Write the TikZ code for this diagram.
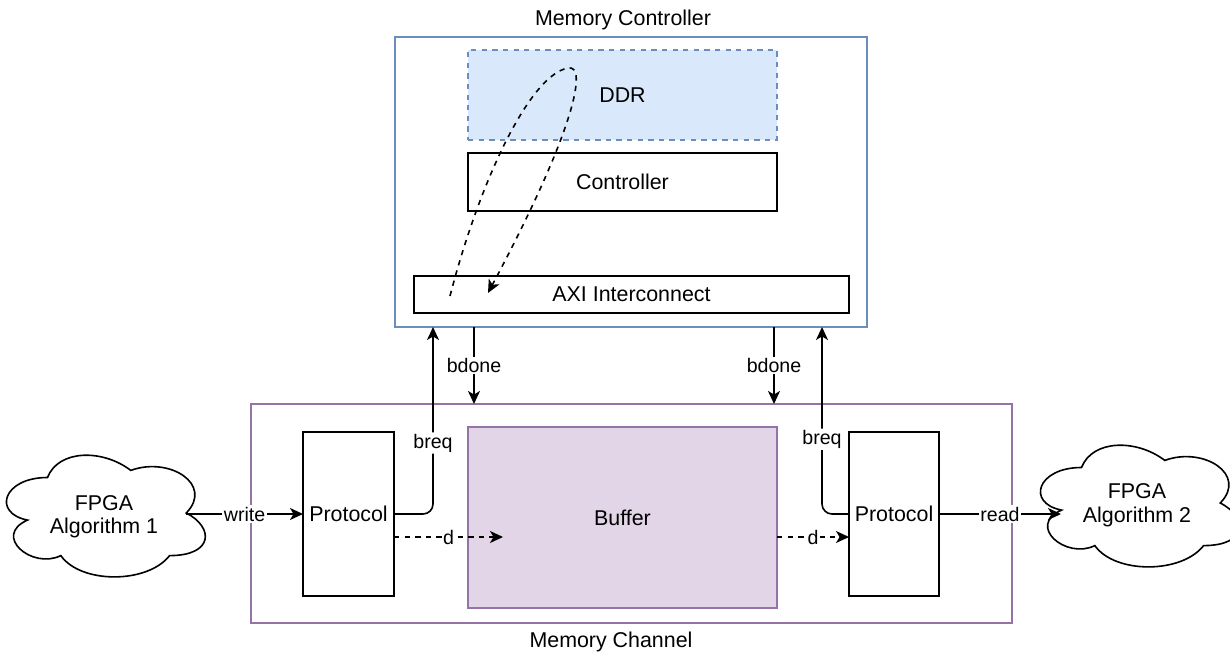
\documentclass[tikz,border=0pt]{standalone}
\usepackage{fontspec}
\setmainfont{Liberation Sans}
\usetikzlibrary{arrows.meta,calc}
\definecolor{bluestroke}{HTML}{6C8EBF}
\definecolor{bluefill}{HTML}{DAE8FC}
\definecolor{purplestroke}{HTML}{9673A6}
\definecolor{purplefill}{HTML}{E1D5E7}
\newcommand\mycloudpath{(0.25,0.25) .. controls (0.05,0.25) and (0,0.5) .. (0.16,0.55)
  .. controls (0,0.66) and (0.18,0.9) .. (0.31,0.8)
  .. controls (0.4,1) and (0.7,1) .. (0.8,0.8)
  .. controls (1,0.8) and (1,0.6) .. (0.875,0.5)
  .. controls (1,0.3) and (0.8,0.1) .. (0.625,0.2)
  .. controls (0.5,0.05) and (0.3,0.05) .. (0.25,0.25) -- cycle}
\begin{document}
\begin{tikzpicture}[x=1pt,y=-1pt,
  every node/.style={inner sep=0pt, outer sep=0pt, text=black},
  big/.style={font=\fontsize{21.4}{23.5}\selectfont},
  box/.style={draw=black, fill=white, line width=1.6pt, big},
  lbl/.style={fill=white, inner sep=1.5pt, font=\fontsize{19.6}{22}\selectfont},
  arr/.style={line width=1.6pt, -{Stealth[length=13pt,width=12pt,inset=3.5pt]}},
  darr/.style={arr, dash pattern=on 5.3pt off 5.3pt},
  cloudline/.style={line width=1.6pt},
  cloudbox/.style={minimum width=222, minimum height=142},
]
\useasboundingbox (0,0) rectangle (1230,652);

% Memory controller
\node[box, draw=bluestroke, minimum width=472, minimum height=290] (mc) at (631,182) {};
\node[big] (mct) at (623,20) {Memory Controller};
\node[box, draw=bluestroke, fill=bluefill, dash pattern=on 5.3pt off 5.3pt, minimum width=309, minimum height=90] (ddr) at (622.5,95) {DDR};
\node[box, minimum width=309, minimum height=58] (ctrl) at (622.5,182) {Controller};
\node[box, minimum width=435, minimum height=37] (axi) at (631.5,294.5) {AXI Interconnect};

% Memory channel
\node[box, draw=purplestroke, minimum width=761, minimum height=219] (ch) at (631.5,513.5) {};
\node[big] (cht) at (611,642) {Memory Channel};
\node[box, draw=purplestroke, fill=purplefill, minimum width=309, minimum height=181] (buf) at (622.5,517.5) {Buffer};
\node[box, minimum width=91, minimum height=164] (p1) at (348.5,514) {Protocol};
\node[box, minimum width=90, minimum height=164] (p2) at (894,514) {Protocol};

% Clouds
\node[cloudbox] (c1) at (103,513) {};
\draw[cloudline, shift={(c1.north west)}, xscale=222, yscale=142] \mycloudpath;
\node[big, align=center] (c1t) at (104,516.5) {FPGA\\Algorithm 1};
\node[cloudbox] (c2) at (1137,503) {};
\draw[cloudline, shift={(c2.north west)}, xscale=222, yscale=142] \mycloudpath;
\node[big, align=center] (c2t) at (1137,505) {FPGA\\Algorithm 2};
\coordinate (c1port) at ($(c1.north west)+(194.25,72)$);
\coordinate (c2port) at (1061,514);

% DDR loop
\coordinate (lS) at (450,296);
\coordinate (lT) at (568,68);
\coordinate (lE) at (488,293);
\draw[darr] (lS) .. controls (480,180) and (530,75) .. (lT) .. controls (588,64) and (575,130) .. (lE);

% connectors
\draw[arr] (c1port) -- node[lbl]{write} (p1.west);
\draw[arr] (p2.east) -- node[lbl]{read} (c2port);
\draw[arr, rounded corners=10pt] (p1.east) -| node[lbl,pos=0.69]{breq} ([xshift=-198pt]mc.south);
\draw[arr, rounded corners=10pt] (p2.west) -| node[lbl,pos=0.70]{breq} ([xshift=191pt]mc.south);
\draw[arr] ([xshift=-157pt]mc.south) -- node[lbl]{bdone} ([xshift=-157.5pt]ch.north);
\draw[arr] ([xshift=143pt]mc.south) -- node[lbl]{bdone} ([xshift=142.5pt]ch.north);
\coordinate (d1e) at (503,537);
\draw[darr] ([yshift=-23pt]p1.east) -- node[lbl]{d} (d1e);
\coordinate (d2e) at ([yshift=-23pt]p2.west);
\draw[darr] (buf.east |- d2e) -- node[lbl]{d} (d2e);
\end{tikzpicture}
\end{document}
